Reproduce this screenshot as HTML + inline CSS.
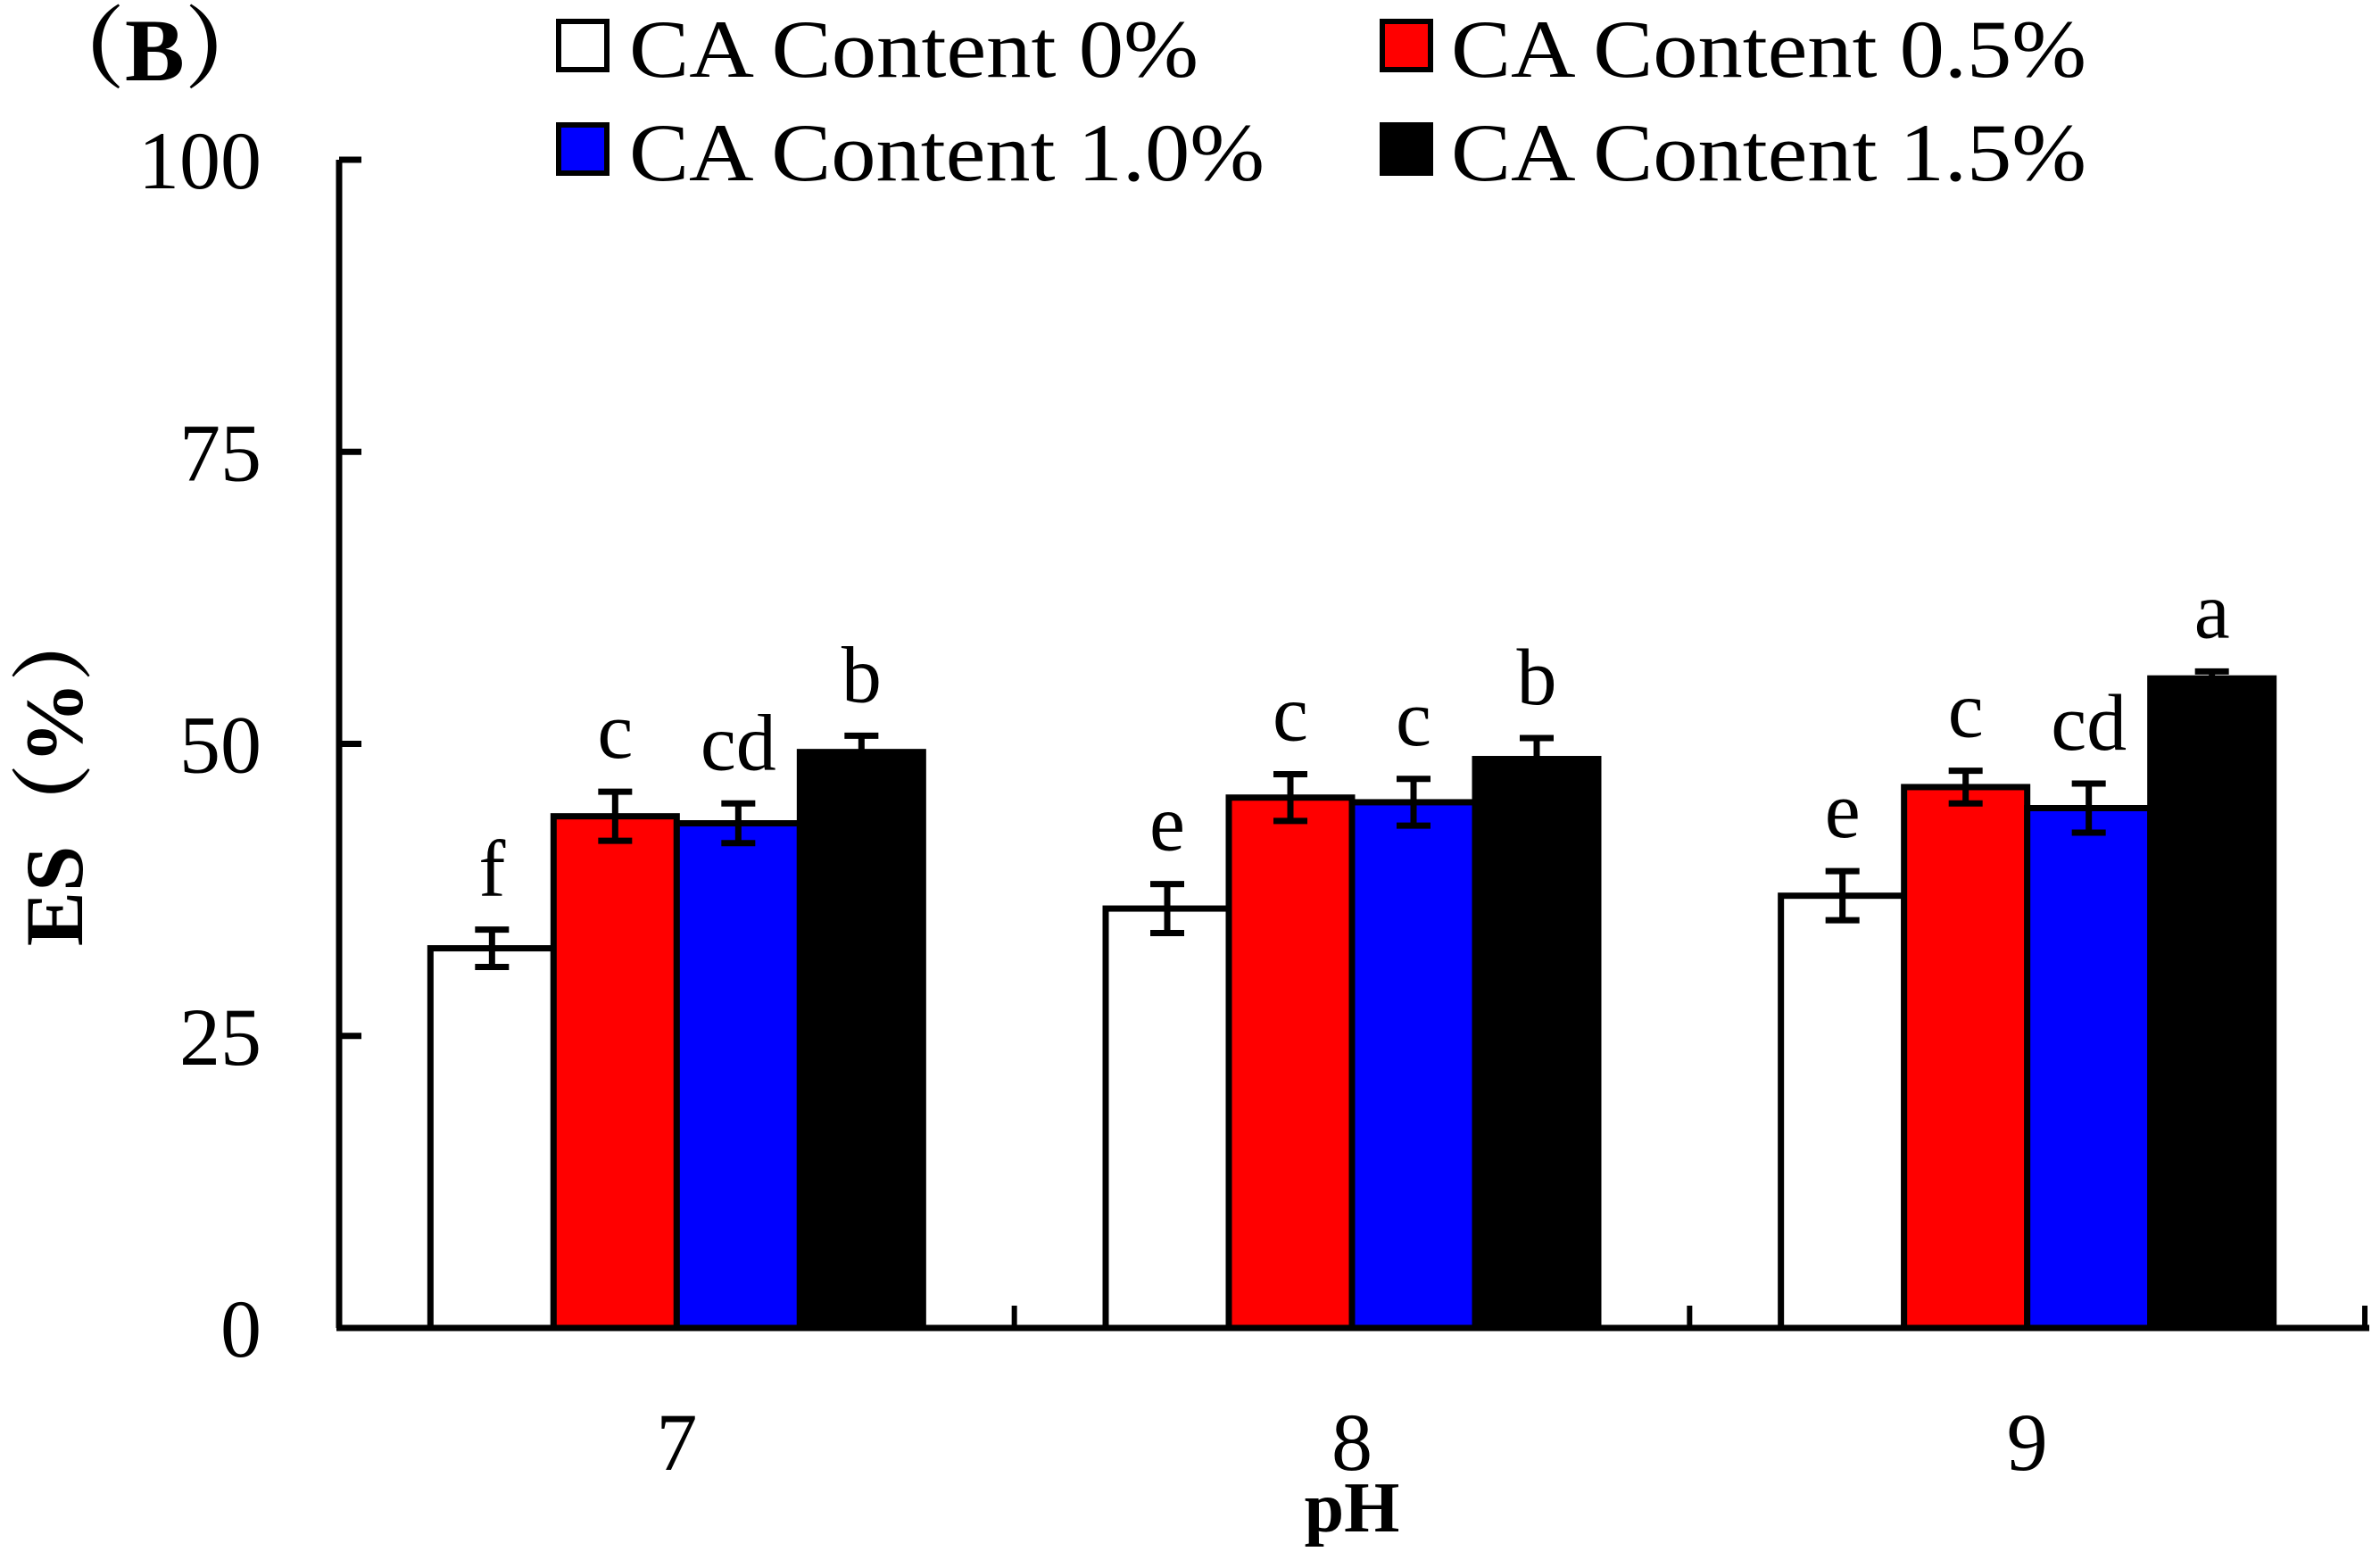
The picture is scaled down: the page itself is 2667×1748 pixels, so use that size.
<!DOCTYPE html>
<html><head><meta charset="utf-8"><style>
html,body{margin:0;padding:0;background:#fff;}
svg{display:block;}
text{font-family:"Liberation Serif","Noto Serif CJK SC",serif;fill:#000;}
</style></head><body>
<svg id="chart" width="2667" height="1748" viewBox="0 0 2667 1748" xmlns="http://www.w3.org/2000/svg">
<text x="40" y="90" font-size="100" font-weight="bold">（B）</text>
<g id="legend"></g>
<g id="axes"></g>
<g id="bars"></g>
<text transform="translate(92,866) rotate(-90)" text-anchor="middle" font-size="92" font-weight="bold">ES（%）</text>
<text x="1515" y="1716" text-anchor="middle" font-size="80" font-weight="bold">pH</text>
</svg>
<script>
const categories = ["7","8","9"];
const seriesNames = ["CA Content 0%","CA Content 0.5%","CA Content 1.0%","CA Content 1.5%"];
const seriesColors = ["#ffffff","#ff0000","#0000ff","#000000"];
const s0 = [32.5, 35.9, 37.0];
const s1 = [43.8, 45.4, 46.3];
const s2 = [43.2, 45.0, 44.5];
const s3 = [49.3, 48.7, 55.6];
const e0 = [1.6, 2.1, 2.1];
const e1 = [2.1, 2.0, 1.4];
const e2 = [1.7, 2.0, 2.1];
const e3 = [1.4, 1.8, 0.6];
const l0 = ["f","e","e"];
const l1 = ["c","c","c"];
const l2 = ["cd","c","cd"];
const l3 = ["b","b","a"];
const yTicks = [0,25,50,75,100];

const values=[s0,s1,s2,s3], errs=[e0,e1,e2,e3], letters=[l0,l1,l2,l3];
const NS="http://www.w3.org/2000/svg";
const X0=380, X1=2650, Y0=1488, Y100=179;
const groupW=(X1-X0)/categories.length, barW=138;
function y(v){return Y0-(v/100)*(Y0-Y100);}
function groupCenter(i){return X0+groupW*(i+0.5);}
function barX(i,s){return groupCenter(i)-2*barW+s*barW;}
function mk(tag,attrs,parent){const e=document.createElementNS(NS,tag);for(const k in attrs)e.setAttribute(k,attrs[k]);parent.appendChild(e);return e;}

const axes=document.getElementById('axes');
const bars=document.getElementById('bars');
const legend=document.getElementById('legend');

for(let s=0;s<4;s++){
  for(let i=0;i<categories.length;i++){
    const v=values[s][i], x=barX(i,s);
    const r=mk('rect',{x:x,y:y(v),width:barW,height:Y0-y(v),fill:seriesColors[s],stroke:'#000','stroke-width':7},bars);
    
    
    const cx=x+barW/2, top=y(v+errs[s][i]), bot=y(v-errs[s][i]);
    const g=mk('path',{d:`M${cx} ${top}V${bot}M${cx-19} ${top}H${cx+19}M${cx-19} ${bot}H${cx+19}`,stroke:'#000','stroke-width':7,fill:'none'},bars);
    
    
    const t=mk('text',{x:cx,y:top-38,'text-anchor':'middle','font-size':90},bars);
    t.textContent=letters[s][i];
    
    
  }
}

const ya=mk('path',{d:`M${X0} ${Y100}V${Y0}`,stroke:'#000','stroke-width':7},axes);


const xa=mk('path',{d:`M${X0-3} ${Y0}H${X1+5}`,stroke:'#000','stroke-width':7},axes);


yTicks.forEach(t=>{
  const tk=mk('path',{d:`M${X0} ${y(t)}H${X0+25}`,stroke:'#000','stroke-width':7},axes);
  
  
  const lb=mk('text',{x:293,y:y(t)+32,'text-anchor':'end','font-size':92},axes);
  lb.textContent=t;
  
  
});
for(let i=1;i<=categories.length;i++){
  const xx=X0+groupW*i;
  const tk=mk('path',{d:`M${xx} ${Y0}V${Y0-25}`,stroke:'#000','stroke-width':6},axes);
  
  
}
categories.forEach((c,i)=>{
  const lb=mk('text',{x:groupCenter(i),y:1647,'text-anchor':'middle','font-size':92},axes);
  lb.textContent=c;
  
  
});

const legPos=[[626,24,705,86,638],[1549,24,1626,86,712],[626,140,705,202,712],[1549,140,1626,202,712]];
seriesNames.forEach((n,s)=>{
  const p=legPos[s];
  const b=mk('rect',{x:p[0],y:p[1],width:54,height:54,fill:seriesColors[s],stroke:'#000','stroke-width':6},legend);
  
  
  const t=mk('text',{x:p[2],y:p[3],'font-size':92,textLength:p[4],lengthAdjust:'spacingAndGlyphs'},legend);
  t.textContent=n;
  
  
});
</script>
</body></html>
